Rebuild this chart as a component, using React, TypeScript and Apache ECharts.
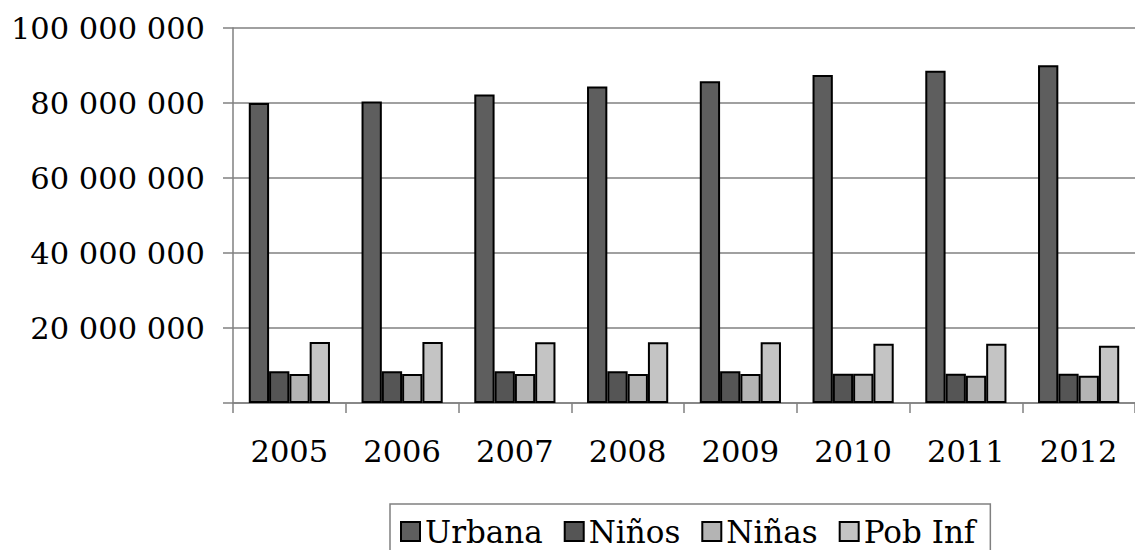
import React, { useEffect, useRef } from "react";
import * as echarts from "echarts";

const years = ["2005", "2006", "2007", "2008", "2009", "2010", "2011", "2012"];
const urbana = [80000000, 80400000, 82300000, 84400000, 85800000, 87500000, 88600000, 90100000];
const ninos = [8450000, 8450000, 8450000, 8450000, 8450000, 7800000, 7800000, 7800000];
const ninas = [7750000, 7750000, 7750000, 7750000, 7750000, 7800000, 7300000, 7300000];
const pobInf = [16300000, 16300000, 16200000, 16200000, 16200000, 15800000, 15800000, 15300000];
const seriesNames = ["Urbana", "Niños", "Niñas", "Pob Inf"];
const seriesColors = ["#5e5e5e", "#555555", "#b4b4b4", "#c4c4c4"];

const FONT = "DejaVu Serif";

function fmt(v: number): string {
  if (v === 0) return "";
  return String(Math.round(v)).replace(/\B(?=(\d{3})+(?!\d))/g, " ");
}

export default function App() {
  const ref = useRef<HTMLDivElement>(null);
  useEffect(() => {
    if (!ref.current) return;
    const chart = echarts.init(ref.current, null, { renderer: "svg" });
    const dataSets = [urbana, ninos, ninas, pobInf];
    chart.setOption({
      animation: false,
      backgroundColor: "#ffffff",
      grid: { left: 233, right: -11, top: 28, bottom: 147, containLabel: false },
      legend: {
        left: 390,
        top: 504,
        orient: "horizontal",
        itemWidth: 19,
        itemHeight: 19,
        itemGap: 21,
        padding: [12, 15, 12, 10],
        borderColor: "#808080",
        borderWidth: 1.5,
        icon: "rect",
        textStyle: { fontFamily: FONT, fontSize: 31, color: "#000" },
        data: seriesNames,
      },
      xAxis: {
        type: "category",
        data: years,
        axisLine: { lineStyle: { color: "#808080", width: 1.5 } },
        axisTick: { show: true, length: 10, lineStyle: { color: "#808080", width: 1.5 } },
        axisLabel: { fontFamily: FONT, fontSize: 30.5, color: "#000", margin: 33 },
        splitLine: { show: false },
      },
      yAxis: {
        type: "value",
        min: 0,
        max: 100000000,
        interval: 20000000,
        axisLine: { show: true, lineStyle: { color: "#808080", width: 1.5 } },
        axisTick: { show: true, length: 10, lineStyle: { color: "#808080", width: 1.5 } },
        axisLabel: { fontFamily: FONT, fontSize: 30.5, color: "#000", margin: 28, formatter: fmt },
        splitLine: { show: true, lineStyle: { color: "#808080", width: 1.5 } },
      },
      series: seriesNames.map((name, i) => ({
        name,
        type: "bar",
        data: dataSets[i],
        barGap: "0%",
        barCategoryGap: "28%",
        itemStyle: { color: seriesColors[i], borderColor: "#000", borderWidth: 2 },
      })),
    });
    return () => chart.dispose();
  }, []);
  return (
    <div
      ref={ref}
      style={{ position: "fixed", left: 0, top: 0, width: 1135, height: 550, background: "#fff" }}
    />
  );
}
